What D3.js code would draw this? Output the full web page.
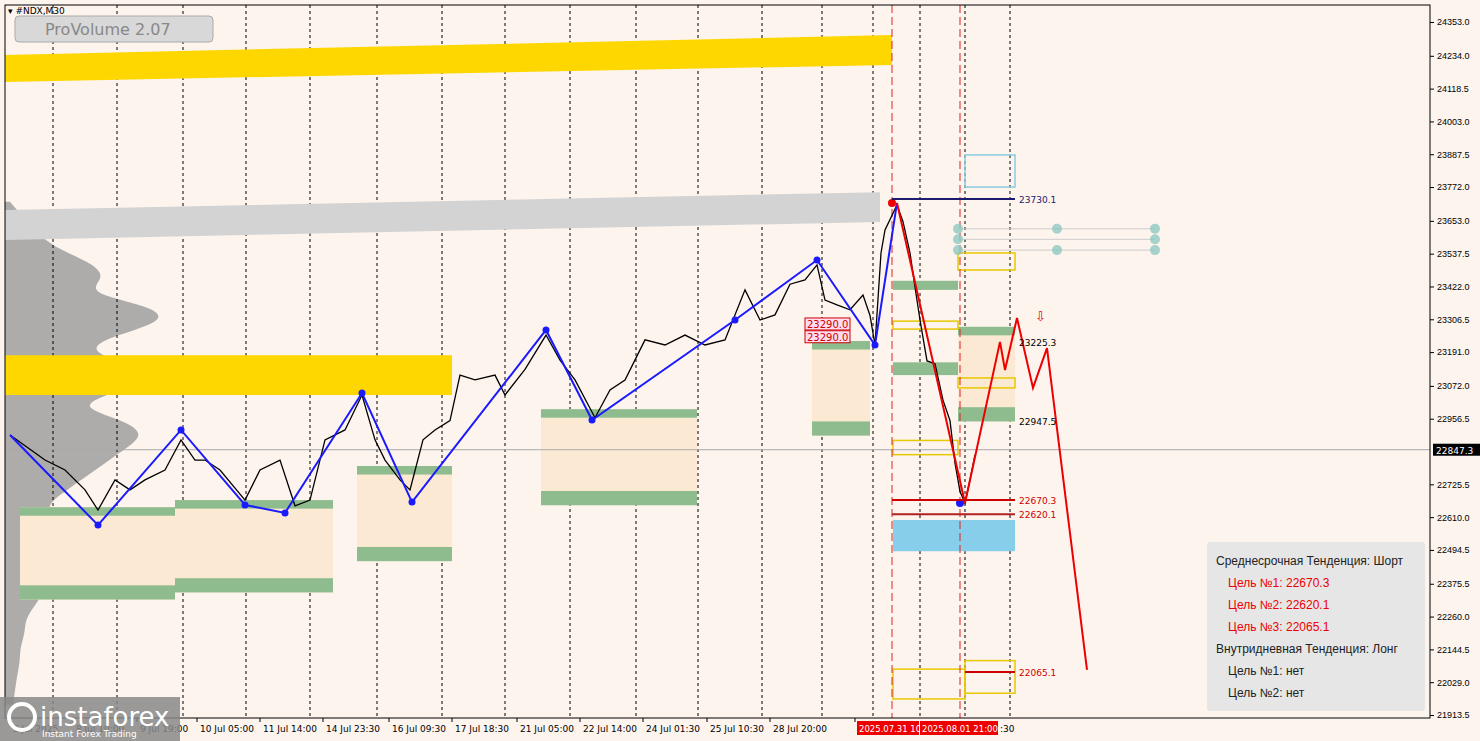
<!DOCTYPE html><html><head><meta charset="utf-8"><script src="https://cdn.jsdelivr.net/npm/d3@7"></script>
<style>body{margin:0;background:#fdf4ee;}svg{display:block;font-family:Tahoma,"DejaVu Sans",sans-serif}</style></head><body>
<svg id="c" width="1480" height="741"></svg>
<script>
const yTicks=[24353.0,24234.0,24118.5,24003.0,23887.5,23772.0,23653.0,23537.5,23422.0,23306.5,23191.0,23072.0,22956.5,22725.5,22610.0,22494.5,22375.5,22260.0,22144.5,22029.0,21913.5];
const lastPrice=22847.3;
const timeLabels=["3 Jul 2025","8 Jul 10:00","9 Jul 19:00","10 Jul 05:00","11 Jul 14:00","14 Jul 23:30","16 Jul 09:30","17 Jul 18:30","21 Jul 05:00","22 Jul 14:00","24 Jul 01:30","25 Jul 10:30","28 Jul 20:00","30 J"];
const timeLabelBars=[5,68,132,192,255,318,384,447,512,575,638,702,765,850];
const gridBars=[48,112,178,241,305,372,437,500,565,631,693,757,817,868,915,960,1005];
const priceBars=[5,40,60,80,93,110,125,140,160,176,190,200,215,240,255,275,290,305,320,340,357,370,380,395,405,418,430,445,455,470,490,500,520,541,555,570,590,605,620,640,660,680,700,720,740,755,770,785,800,812,820,832,845,858,865,870,876,880,892,898,905,910,915,922,930,938,945,950,955,960,965,970];
const priceVals=[22899,22811,22776,22706,22635,22741,22706,22741,22776,22882,22811,22811,22776,22670,22776,22811,22650,22670,22882,22917,23040,22882,22811,22741,22706,22882,22917,22950,23110,23093,23110,23040,23130,23251,23163,23093,22960,23058,23093,23234,23216,23251,23216,23234,23410,23304,23322,23430,23445,23498,23374,23357,23340,23392,23320,23216,23540,23621,23709,23650,23540,23420,23304,23160,23150,23022,22950,22800,22700,22660,22741,22829];
const zzBars=[5,93,176,240,280,357,407,541,587,730,812,870,892];
const zzVals=[22899,22582,22917,22653,22625,23047,22663,23269,22952,23304,23515,23216,23716];
const fcBars=[892,960,995,1000,1012,1028,1042,1082];
const fcVals=[23716,22660,23227,23128,23311,23065,23205,22072];
const levelVals=[23730.1,22670.3,22620.1,22065.1];
const levelLabels=["23730.1","22670.3","22620.1","22065.1"];
const profPrices=[23720,23680,23650,23600,23550,23500,23450,23400,23350,23300,23250,23200,23150,23100,23050,23000,22950,22900,22850,22800,22750,22700,22650,22600,22550,22500,22450,22400,22350,22300,22250,22200,22150,22100,22050,22000,21950];
const profWidths=[5,15,20,35,55,90,100,80,150,160,110,80,120,150,110,70,120,140,120,100,80,60,40,50,30,35,30,25,40,30,20,20,15,15,12,10,8];
const legendLines=["Среднесрочная Тенденция: Шорт","Цель №1: 22670.3","Цель №2: 22620.1","Цель №3: 22065.1","Внутридневная Тенденция: Лонг","Цель №1: нет","Цель №2: нет"];

const svg=d3.select("#c");
const x=d3.scaleLinear().domain([0,1425]).range([5,1430]);
const y=d3.scaleLinear().domain([21913.5,24353]).range([715,22]);
const g=svg.append("g");
g.append("path").datum(profPrices.map((p,i)=>[p,profWidths[i]])).attr("fill","#9a9a9a").attr("opacity",0.8)
 .attr("d",d3.area().curve(d3.curveBasis).y(d=>y(d[0])).x0(x(0)).x1(d=>x(d[1])));
g.selectAll(".gv").data(gridBars).join("line").attr("x1",d=>x(d)).attr("x2",d=>x(d)).attr("y1",5).attr("y2",718).attr("stroke","#000").attr("stroke-dasharray","3,3").attr("stroke-width",1);
function band(b0,b1,l0,l1,r0,r1,col){g.append("path").attr("fill",col).attr("d",`M${x(b0)},${y(l0)}L${x(b1)},${y(r0)}L${x(b1)},${y(r1)}L${x(b0)},${y(l1)}Z`);}
band(0,887,24237,24142,24307,24202,"#ffd700");
band(0,875,23691,23586,23754,23649,"#d3d3d3");
band(0,447,23180,23040,23180,23040,"#ffd700");
function rect(b0,b1,p0,p1,col,stroke){g.append("rect").attr("x",x(b0)).attr("width",x(b1)-x(b0)).attr("y",y(p0)).attr("height",y(p1)-y(p0)).attr("fill",stroke?"none":col).attr("stroke",stroke?col:"none").attr("stroke-width",1.5);}
const boxes=[[15,170,22645,22320],[170,328,22670,22345],[352,447,22790,22455],[536,692,22990,22652],[807,865,23230,22897],[953,1010,23280,22947]];
boxes.forEach(b=>{rect(b[0],b[1],b[2],b[3],"#fbe9d3");rect(b[0],b[1],b[2],b[2]-30,"#8fbc8f");rect(b[0],b[1],b[3]+50,b[3],"#8fbc8f");});
rect(888,953,23442,23410,"#8fbc8f");rect(888,953,23155,23110,"#8fbc8f");
rect(888,1010,22600,22490,"#87ceeb");
[[888,953,23300,23272],[888,953,22880,22830],[953,1010,23540,23480],[953,1010,23100,23065],[888,960,22075,21970],[960,1010,22105,21990]].forEach(b=>rect(b[0],b[1],b[2],b[3],"#e8c800",true));
rect(960,1010,23885,23772,"#8ccbe0",true);
g.append("line").attr("x1",x(0)).attr("x2",x(1425)).attr("y1",y(lastPrice)).attr("y2",y(lastPrice)).attr("stroke","#aaa");
[887,955].forEach(b=>g.append("line").attr("x1",x(b)).attr("x2",x(b)).attr("y1",5).attr("y2",718).attr("stroke","#d22").attr("stroke-dasharray","8,4"));
[23625,23588,23550].forEach((p,i)=>{g.append("line").attr("x1",x(953)).attr("x2",x(1150)).attr("y1",y(p)).attr("y2",y(p)).attr("stroke","#ccc");
 [953,1052,1150].forEach((b,j)=>{if(i!==1||j!==1)g.append("circle").attr("cx",x(b)).attr("cy",y(p)).attr("r",5).attr("fill","#8fc9c0").attr("opacity",.8);});});
g.append("path").datum(priceBars.map((b,i)=>[b,priceVals[i]])).attr("fill","none").attr("stroke","#000").attr("stroke-width",1.3)
 .attr("d",d3.line().x(d=>x(d[0])).y(d=>y(d[1])));
g.append("path").datum(zzBars.map((b,i)=>[b,zzVals[i]])).attr("fill","none").attr("stroke","#1a1aff").attr("stroke-width",2).attr("d",d3.line().x(d=>x(d[0])).y(d=>y(d[1])));
g.selectAll(".zd").data(zzBars.slice(1,-1)).join("circle").attr("cx",d=>x(d)).attr("cy",(d,i)=>y(zzVals[i+1])).attr("r",3.5).attr("fill","#1a1aff");
g.append("path").datum(fcBars.map((b,i)=>[b,fcVals[i]])).attr("fill","none").attr("stroke","#e00").attr("stroke-width",2).attr("d",d3.line().x(d=>x(d[0])).y(d=>y(d[1])));
g.append("circle").attr("cx",x(887)).attr("cy",y(23716)).attr("r",4).attr("fill","#e00");
g.append("circle").attr("cx",x(955)).attr("cy",y(22660)).attr("r",4).attr("fill","#1a1aff");
const lvCol=["#1a1a6e","#cc0000","#b22222","#cc0000"];
levelVals.forEach((v,i)=>{g.append("line").attr("x1",x(i==3?960:887)).attr("x2",x(1010)).attr("y1",y(v)).attr("y2",y(v)).attr("stroke",lvCol[i]).attr("stroke-width",2);
 g.append("text").attr("x",x(1014)).attr("y",y(v)+4).attr("font-size",9).attr("fill",i?"#cc0000":"#1a1a6e").text(levelLabels[i]);});
g.append("text").attr("x",x(1014)).attr("y",y(23225.3)+4).attr("font-size",9).text("23225.3");
g.append("text").attr("x",x(1014)).attr("y",y(22947.5)+4).attr("font-size",9).text("22947.5");
g.append("text").attr("x",x(1030)).attr("y",y(23300)).attr("font-size",13).attr("fill","#e00").text("⇩");
[23290,23245].forEach(p=>{g.append("rect").attr("x",x(800)).attr("y",y(p)-6).attr("width",45).attr("height",12).attr("fill","#fde").attr("stroke","#c00");
 g.append("text").attr("x",x(802)).attr("y",y(p)+4).attr("font-size",10).attr("fill","#c00").text("23290.0");});
g.append("rect").attr("x",5).attr("y",5).attr("width",1425).attr("height",713).attr("fill","none").attr("stroke","#000");
const ya=svg.append("g").attr("transform","translate(1430,0)").call(d3.axisRight(y).tickValues(yTicks).tickSize(4).tickFormat(d3.format(".1f")));
ya.select(".domain").remove();ya.selectAll("text").attr("font-size",9).attr("fill","#000");
svg.append("rect").attr("x",1433).attr("y",y(lastPrice)-6).attr("width",47).attr("height",12).attr("fill","#000");
svg.append("text").attr("x",1436).attr("y",y(lastPrice)+4).attr("font-size",9).attr("fill","#fff").text(lastPrice.toFixed(1));
const xa=svg.append("g").attr("transform","translate(0,718)");
timeLabelBars.forEach((b,i)=>{xa.append("line").attr("x1",x(b)).attr("x2",x(b)).attr("y1",0).attr("y2",4).attr("stroke","#000");
 xa.append("text").attr("x",x(b)+3).attr("y",14).attr("font-size",9).text(timeLabels[i]);});
[[852,"2025.07.31 10:"],[915,"2025.08.01 21:00"]].forEach(d=>{xa.append("rect").attr("x",x(d[0])).attr("y",3).attr("width",d[0]==852?62:78).attr("height",14).attr("fill","#e00");
 xa.append("text").attr("x",x(d[0])+2).attr("y",14).attr("font-size",8.5).attr("fill","#fff").text(d[1]);});
xa.append("text").attr("x",x(995)).attr("y",14).attr("font-size",9).text(":30");
svg.append("text").attr("x",8).attr("y",14).attr("font-size",9).text("▾ #NDX,M30");
svg.append("rect").attr("x",15).attr("y",16).attr("width",198).attr("height",26).attr("rx",4).attr("fill","#d8d8d8").attr("stroke","#aaa");
svg.append("text").attr("x",45).attr("y",35).attr("font-size",16).attr("fill","#888").text("ProVolume 2.07");
const lg=svg.append("g");
lg.append("rect").attr("x",1207).attr("y",542).attr("width",218).attr("height",169).attr("rx",3).attr("fill","#e6e6e6");
legendLines.forEach((t,i)=>lg.append("text").attr("x",(i==0||i==4)?1216:1228).attr("y",565+i*22).attr("font-size",12).attr("font-family","Arial,Liberation Sans").attr("fill",(i>0&&i<4)?"#e00":"#222").text(t));
svg.append("rect").attr("x",0).attr("y",697).attr("width",180).attr("height",44).attr("fill","#888").attr("opacity",.85);
svg.append("text").attr("x",40).attr("y",726).attr("font-size",26).attr("fill","#fff").text("instaforex");
svg.append("text").attr("x",42).attr("y",737).attr("font-size",9).attr("fill","#fff").text("Instant Forex Trading");
svg.append("circle").attr("cx",22).attr("cy",717).attr("r",13).attr("fill","none").attr("stroke","#fff").attr("stroke-width",4);
</script></body></html>
